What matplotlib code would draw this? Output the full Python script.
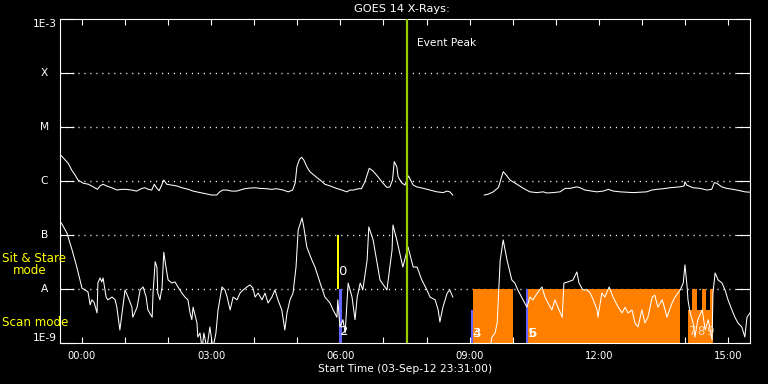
import numpy as np
import matplotlib
matplotlib.use("Agg")
import matplotlib.pyplot as plt
from matplotlib.ticker import FixedLocator, NullLocator, FixedFormatter

# ---------------- data (hours after 04-Sep-12 00:00, flux W/m^2) ----------------
nan = np.nan
long_t = [-0.48, -0.39, -0.32, -0.24, -0.16, -0.09, 0.03, 0.15, 0.26, 0.36, 0.42, 0.49, 0.57, 0.69,
          0.81, 0.92, 1.04, 1.15, 1.27, 1.39, 1.46, 1.54, 1.62, 1.68, 1.73, 1.79, 1.85, 1.90, 1.97,
          2.08, 2.20, 2.32, 2.47, 2.58, 2.74, 2.90, 3.01, 3.13, 3.20, 3.27, 3.36, 3.48, 3.59, 3.67,
          3.78, 3.90, 4.02, 4.13, 4.29, 4.40, 4.52, 4.67, 4.79, 4.89, 4.95, 4.99, 5.05, 5.10, 5.15,
          5.22, 5.29, 5.41, 5.53, 5.64, 5.76, 5.91, 6.03, 6.15, 6.22, 6.30, 6.42, 6.49, 6.57, 6.67,
          6.75, 6.84, 6.96, 7.08, 7.15, 7.21, 7.25, 7.31, 7.34, 7.42, 7.50, 7.54, 7.58, 7.63, 7.69,
          7.77, 7.93, 8.08, 8.24, 8.39, 8.47, 8.54, 8.61, 8.90, 9.34, 9.43, 9.55, 9.67, 9.72, 9.78,
          9.85, 9.94, 10.09, 10.25, 10.40, 10.56, 10.71, 10.79, 10.94, 11.10, 11.22, 11.33, 11.49,
          11.56, 11.68, 11.84, 11.95, 12.10, 12.22, 12.34, 12.49, 12.65, 12.80, 12.96, 13.11, 13.23,
          13.34, 13.50, 13.65, 13.89, 13.98, 14.00, 14.04, 14.19, 14.35, 14.51, 14.62, 14.68, 14.74,
          14.85, 14.97, 15.12, 15.28, 15.39, 15.51]
long_flux = [2.94e-6, 2.45e-6, 2.13e-6, 1.60e-6, 1.29e-6, 1.04e-6, 9.1e-7, 8.7e-7, 7.8e-7, 7.0e-7,
             8.1e-7, 8.7e-7, 8.1e-7, 7.5e-7, 6.8e-7, 7.0e-7, 7.0e-7, 6.8e-7, 6.5e-7, 7.3e-7, 7.5e-7,
             7.0e-7, 6.8e-7, 8.7e-7, 7.5e-7, 6.6e-7, 8.4e-7, 1.04e-6, 8.7e-7, 8.4e-7, 8.1e-7, 7.5e-7,
             7.0e-7, 6.5e-7, 6.1e-7, 5.7e-7, 5.5e-7, 5.5e-7, 6.3e-7, 6.8e-7, 6.8e-7, 6.5e-7, 6.5e-7,
             6.8e-7, 7.2e-7, 7.4e-7, 7.5e-7, 7.3e-7, 7.2e-7, 7.0e-7, 7.2e-7, 6.8e-7, 6.3e-7, 6.8e-7,
             9.1e-7, 1.84e-6, 2.52e-6, 2.75e-6, 2.45e-6, 1.84e-6, 1.49e-6, 1.24e-6, 1.04e-6, 8.7e-7,
             8.1e-7, 7.3e-7, 6.8e-7, 6.3e-7, 6.8e-7, 6.8e-7, 7.2e-7, 7.2e-7, 9.7e-7, 1.72e-6, 1.55e-6,
             1.29e-6, 9.7e-7, 7.6e-7, 7.8e-7, 1.04e-6, 2.28e-6, 1.84e-6, 1.20e-6, 9.3e-7, 8.4e-7,
             1.04e-6, 1.24e-6, 1.04e-6, 8.4e-7, 7.8e-7, 7.3e-7, 6.8e-7, 6.3e-7, 6.1e-7, 6.5e-7, 6.3e-7,
             5.5e-7, nan, 5.5e-7, 5.7e-7, 6.3e-7, 7.6e-7, 1.04e-6, 1.49e-6, 1.29e-6, 1.04e-6, 8.8e-7,
             7.3e-7, 6.3e-7, 6.1e-7, 6.3e-7, 6.0e-7, 6.1e-7, 6.3e-7, 7.3e-7, 7.3e-7, 7.8e-7, 7.5e-7,
             6.8e-7, 6.5e-7, 6.3e-7, 6.5e-7, 7.0e-7, 6.5e-7, 6.3e-7, 6.2e-7, 6.1e-7, 6.2e-7, 6.3e-7,
             6.8e-7, 7.0e-7, 7.2e-7, 7.5e-7, 7.8e-7, 8.1e-7, 9.7e-7, 8.4e-7, 7.5e-7, 7.3e-7, 6.8e-7,
             7.0e-7, 9.3e-7, 9.1e-7, 7.8e-7, 7.3e-7, 7.0e-7, 6.6e-7, 6.3e-7, 6.2e-7]

short_t = [-0.48, -0.35, -0.23, -0.12, 0.00, 0.07, 0.14, 0.19, 0.23, 0.28, 0.35, 0.37, 0.42, 0.46,
           0.49, 0.56, 0.60, 0.70, 0.77, 0.81, 0.88, 0.93, 1.00, 1.07, 1.16, 1.18, 1.28, 1.35, 1.42,
           1.49, 1.53, 1.63, 1.65, 1.70, 1.74, 1.76, 1.81, 1.86, 1.90, 1.95, 2.00, 2.09, 2.16, 2.23,
           2.32, 2.39, 2.46, 2.51, 2.55, 2.58, 2.67, 2.69, 2.74, 2.79, 2.83, 2.90, 2.97, 3.04, 3.11,
           3.16, 3.25, 3.32, 3.37, 3.44, 3.51, 3.60, 3.67, 3.74, 3.83, 3.90, 3.97, 4.02, 4.09, 4.18,
           4.25, 4.32, 4.41, 4.48, 4.55, 4.64, 4.71, 4.76, 4.83, 4.90, 4.97, 5.02, 5.11, 5.15, 5.22,
           5.34, 5.41, 5.53, 5.64, 5.76, 5.83, 5.92, 5.94, 5.99, 6.06, 6.11, 6.18, 6.27, 6.34, 6.39,
           6.46, 6.52, 6.62, 6.66, 6.76, 6.87, 6.92, 7.08, 7.20, 7.22, 7.31, 7.45, 7.57, 7.69, 7.78,
           7.89, 8.01, 8.08, 8.20, 8.27, 8.31, 8.38, 8.48, 8.54, 8.61, 8.90, 9.47, 9.52, 9.59, 9.64,
           9.71, 9.78, 9.87, 9.98, 10.05, 10.12, 10.24, 10.33, 10.40, 10.47, 10.57, 10.68, 10.75,
           10.82, 10.91, 10.98, 11.05, 11.15, 11.19, 11.28, 11.40, 11.49, 11.54, 11.63, 11.73, 11.80,
           11.87, 11.96, 11.98, 12.07, 12.14, 12.24, 12.33, 12.45, 12.54, 12.61, 12.68, 12.77, 12.84,
           12.91, 13.00, 13.07, 13.14, 13.24, 13.30, 13.37, 13.47, 13.54, 13.58, 13.70, 13.77, 13.89,
           13.96, 14.00, 14.05, 14.07, 14.12, 14.19, 14.23, 14.30, 14.40, 14.47, 14.54, 14.63, 14.65,
           14.70, 14.77, 14.86, 14.93, 15.00, 15.09, 15.16, 15.23, 15.32, 15.39, 15.44, 15.51]
short_flux = [1.67e-7, 1.09e-7, 5.3e-8, 2.55e-8, 1.04e-8, 9.6e-9, 8.8e-9, 5.1e-9, 6.3e-9, 5.7e-9,
              3.6e-9, 1.29e-8, 1.6e-8, 1.35e-8, 1.6e-8, 7.1e-9, 6.3e-9, 7.1e-9, 6.3e-9, 4.6e-9,
              1.74e-9, 3.6e-9, 9.6e-9, 7.1e-9, 4.6e-9, 3.0e-9, 4.6e-9, 9.6e-9, 1.09e-8, 7.1e-9,
              4.1e-9, 3.0e-9, 8.4e-9, 3.2e-8, 2.55e-8, 8.4e-9, 6.3e-9, 1.09e-8, 4.8e-8, 2.55e-8,
              1.47e-8, 1.29e-8, 1.35e-8, 1.09e-8, 8.4e-9, 7.1e-9, 6.3e-9, 3.6e-9, 2.7e-9, 4.6e-9,
              2.35e-9, 1.29e-9, 1.53e-9, 8e-10, 1.53e-9, 8e-10, 1.98e-9, 8e-10, 1.53e-9, 4.1e-9,
              1.09e-8, 9.6e-9, 7.1e-9, 4.1e-9, 7.1e-9, 6.3e-9, 8.4e-9, 9.6e-9, 1.09e-8, 1.19e-8,
              1.04e-8, 7.1e-9, 8.4e-9, 6.3e-9, 8.4e-9, 5.5e-9, 7.1e-9, 9.6e-9, 6.3e-9, 4.1e-9,
              1.74e-9, 3.6e-9, 6.3e-9, 8.4e-9, 2.55e-8, 1.24e-7, 2.07e-7, 1.41e-7, 6.0e-8, 3.4e-8,
              2.55e-8, 1.29e-8, 7.1e-9, 5.5e-9, 4.1e-9, 3.0e-9, 6.3e-9, 1.98e-9, 2.7e-9, 1.53e-9,
              1.29e-8, 7.1e-9, 2.7e-9, 7.1e-9, 1.29e-8, 9.6e-9, 3.4e-8, 1.41e-7, 8.1e-8, 2.55e-8,
              1.47e-8, 9.6e-9, 5.3e-8, 1.53e-7, 8.1e-8, 2.55e-8, 6.0e-8, 2.55e-8, 2.55e-8, 1.47e-8,
              9.6e-9, 7.1e-9, 6.3e-9, 4.1e-9, 2.45e-9, 4.6e-9, 8.4e-9, 9.6e-9, 7.1e-9, nan, 8e-10,
              1.29e-9, 1.53e-9, 2.35e-9, 3.4e-8, 8.1e-8, 3.4e-8, 1.47e-8, 1.29e-8, 9.6e-9, 6.3e-9,
              4.6e-9, 7.1e-9, 6.3e-9, 8.4e-9, 1.09e-8, 7.1e-9, 5.5e-9, 4.1e-9, 6.3e-9, 4.6e-9,
              3.0e-9, 1.29e-8, 1.35e-8, 1.47e-8, 2.07e-8, 1.29e-8, 9.6e-9, 9.6e-9, 8.4e-9, 6.3e-9,
              4.1e-9, 3.0e-9, 8.4e-9, 7.1e-9, 1.09e-8, 7.1e-9, 4.6e-9, 3.6e-9, 4.6e-9, 3.6e-9,
              4.1e-9, 2.35e-9, 1.98e-9, 4.1e-9, 2.35e-9, 3.0e-9, 7.1e-9, 7.7e-9, 4.6e-9, 6.3e-9,
              4.1e-9, 3.0e-9, 5.5e-9, 7.1e-9, 9.6e-9, 1.29e-8, 2.8e-8, 1.09e-8, 6.3e-9, 3.6e-9,
              2.35e-9, 1.29e-9, 2.7e-9, 4.1e-9, 1.74e-9, 2.7e-9, 1.14e-9, 8.4e-9, 1.98e-8, 1.47e-8,
              1.29e-8, 9.6e-9, 6.3e-9, 4.1e-9, 3.0e-9, 2.35e-9, 1.98e-9, 1.29e-9, 3.0e-9, 3.6e-9]

# observation mode bars: start hour, end hour, bottom flux, top flux
scan_start = [9.08, 10.36, 14.07, 14.16, 14.40, 14.58]
scan_end = [10.01, 13.89, 14.65, 14.28, 14.49, 14.65]
scan_bottom = [1e-9, 1e-9, 1e-9, 1e-9, 1e-9, 1e-9]
scan_top = [1e-8, 1e-8, 4.1e-9, 1e-8, 1e-8, 1e-8]

blue_start = [5.97, 9.03, 10.31]
blue_end = [6.04, 9.08, 10.36]
blue_top = [1e-8, 4.1e-9, 1e-8]

sit_start = [5.92]
sit_end = [5.97]
sit_bottom = [1e-8]
sit_top = [1e-7]

# event numbers
num_labels = ["0", "2", "3", "4", "5", "6", "7", "8", "9"]
num_t = [6.04, 6.08, 9.17, 9.17, 10.45, 10.45, 14.19, 14.38, 14.57]
num_flux = [2.07e-8, 1.6e-9, 1.53e-9, 1.53e-9, 1.53e-9, 1.53e-9, 1.6e-9, 1.6e-9, 1.6e-9]
num_colors = ["white", "white", "white", "white", "white", "white", "#ffdcc0", "#ffdcc0", "#ffdcc0"]
num_sizes = [9.5, 9.5, 9.5, 9.5, 9.5, 9.5, 8.4, 8.4, 8.4]

event_peak_t = 7.55

ytick_vals = [1e-9, 1e-8, 1e-7, 1e-6, 1e-5, 1e-4, 1e-3]
ytick_labels = ["1E-9", "A", "B", "C", "M", "X", "1E-3"]
xtick_hours = list(range(0, 16))
xtick_labels = ["00:00" if h == 0 else ("%02d:00" % h if h % 3 == 0 else "") for h in xtick_hours]

# ---------------- figure ----------------
W, H = 768, 384
fig = plt.figure(figsize=(W / 100, H / 100), dpi=100, facecolor="black")
ax = fig.add_axes([60 / W, 41 / H, 690 / W, 324 / H])
ax.set_facecolor("black")
ax.set_yscale("log")
ax.set_ylim(1e-9, 1e-3)
ax.set_xlim(-0.51, 15.51)

FS = 7.7

# grid
for v in ytick_vals[1:-1]:
    ax.axhline(v, color="white", lw=1.0, ls=(0, (0.8, 3.5)), zorder=1)

# bars
ax.bar(scan_start, np.array(scan_top) - np.array(scan_bottom),
       width=np.array(scan_end) - np.array(scan_start), bottom=scan_bottom,
       align="edge", color="#ff8000", linewidth=0, zorder=2)
ax.bar(blue_start, np.array(blue_top) - 1e-9,
       width=np.array(blue_end) - np.array(blue_start), bottom=1e-9,
       align="edge", color="#6464ff", linewidth=0, zorder=2)
ax.bar(sit_start, np.array(sit_top) - np.array(sit_bottom),
       width=np.array(sit_end) - np.array(sit_start), bottom=sit_bottom,
       align="edge", color="#ffff00", linewidth=0, zorder=2)

# curves
ax.plot(long_t, long_flux, color="white", lw=0.75, zorder=3)
ax.plot(short_t, short_flux, color="white", lw=0.75, zorder=3)

# event peak
ax.axvline(event_peak_t, color="#99cc00", lw=1.6, zorder=4)
ax.annotate("Event Peak", xy=(event_peak_t, 0), xycoords=("data", "axes fraction"),
            xytext=(10, 300), textcoords="offset pixels", color="white", fontsize=FS,
            ha="left", va="center")

# numbers
for lab, t, f, c, s in zip(num_labels, num_t, num_flux, num_colors, num_sizes):
    ax.text(t, f, lab, color=c, fontsize=s, ha="center", va="center", zorder=5)

# axes styling
for s in ax.spines.values():
    s.set_color("white")
    s.set_linewidth(0.8)

ax.yaxis.set_major_locator(FixedLocator(ytick_vals))
ax.yaxis.set_minor_locator(NullLocator())
ax.yaxis.set_major_formatter(FixedFormatter([""] * len(ytick_vals)))
ax.tick_params(axis="y", which="major", direction="in", length=10, width=0.8,
               color="white", left=True, right=True)
ytr = ax.get_yaxis_transform()
for v, lab in zip(ytick_vals, ytick_labels):
    va = "center"
    if v == ytick_vals[0]:
        va = "bottom"
    elif v == ytick_vals[-1]:
        va = "top"
    ax.text(-15.5 / 690, v, lab, transform=ytr, color="white", fontsize=FS,
            ha="center", va=va)

ax.xaxis.set_major_locator(FixedLocator(xtick_hours))
ax.xaxis.set_major_formatter(FixedFormatter(xtick_labels))
ax.xaxis.set_minor_locator(NullLocator())
ax.tick_params(axis="x", which="major", direction="in", length=4.3, width=0.8,
               color="white", labelcolor="white", labelsize=7.2, pad=5.5,
               top=True, bottom=True)

# texts
fig.text(402 / W, 1 - 9 / H, "GOES 14 X-Rays:", color="white", fontsize=8.2,
         ha="center", va="center")
fig.text(405 / W, 1 - 369 / H, "Start Time (03-Sep-12 23:31:00)", color="white",
         fontsize=FS, ha="center", va="center")
fig.text(2 / W, 1 - 258 / H, "Sit & Stare", color="#ffff00", fontsize=8.6,
         ha="left", va="center")
fig.text(13 / W, 1 - 270 / H, "mode", color="#ffff00", fontsize=8.6,
         ha="left", va="center")
fig.text(2 / W, 1 - 323 / H, "Scan mode", color="#ffff00", fontsize=8.6,
         ha="left", va="center")

fig.savefig("out.png", dpi=100, facecolor="black")
